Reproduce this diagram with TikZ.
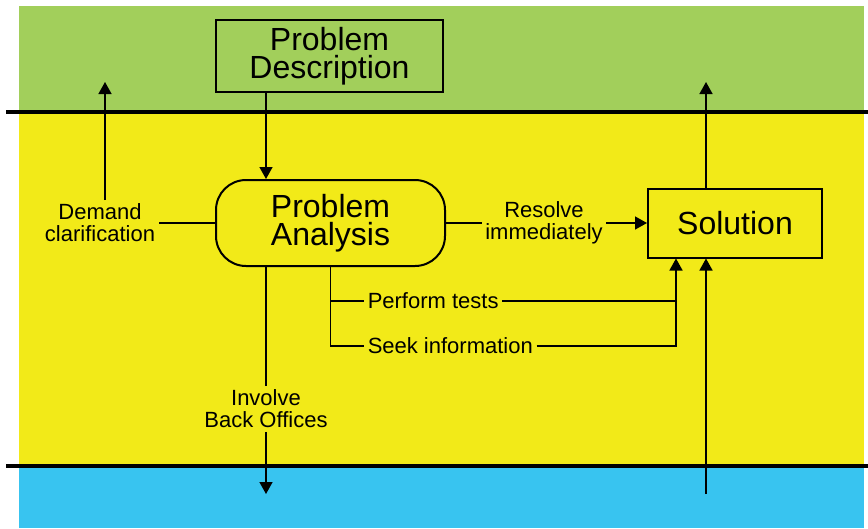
\documentclass[tikz,border=0pt]{standalone}
\usepackage{fontspec}
\setmainfont{Liberation Sans}
\usetikzlibrary{arrows.meta}
\definecolor{topgreen}{RGB}{162,207,91}
\definecolor{midyellow}{RGB}{242,234,24}
\definecolor{lowblue}{RGB}{56,196,240}

\begin{document}
\begin{tikzpicture}[x=1pt, y=-1pt, line width=1.5pt,
    box/.style={draw, line width=2pt, align=center, font=\fontsize{32}{28}\selectfont},
    lbl/.style={align=center, inner sep=3pt, font=\fontsize{22}{22}\selectfont},
    arr/.style={-{Triangle[width=13pt,length=12pt]}}]
  \useasboundingbox (0,0) rectangle (868,528);
  % bands
  \fill[topgreen] (19,6) rectangle (864,112);
  \fill[midyellow] (19,112) rectangle (864,466);
  \fill[lowblue] (19,466) rectangle (864,528);
  \draw[line width=4pt] (6,112) -- (868,112);
  \draw[line width=4pt] (6,466) -- (868,466);

  \node[box, minimum width=227pt, minimum height=72pt] (desc) at (329.5,56) {Problem\\Description};
  \node[box, rounded corners=30pt, minimum width=229pt, minimum height=86pt] (ana) at (330.5,223) {Problem\\Analysis};
  \node[box, minimum width=174pt, minimum height=69pt] (sol) at (735,223) {Solution};

  \node[lbl] (dem) at (100,223) {Demand\\clarification};
  \node[lbl] (res) at (544,223) {Resolve\\immediately};
  \node[lbl, anchor=west] (perf) at (364,301) {Perform tests};
  \node[lbl, anchor=west] (seek) at (364,346) {Seek information};
  \node[lbl] (bo) at (266,409) {Involve\\Back Offices};

  \coordinate (demup) at (105,82);
  \coordinate (solup) at (706,82);
  \coordinate (solin) at (706,494);
  \coordinate (boout) at (266,494);
  \coordinate (mrg) at (676,346);

  % connectors
  \draw[arr] (desc.south -| bo) -- (ana.north -| bo);
  \draw (ana.west) -- (dem.east);
  \draw[arr] (dem.north -| demup) -- (demup);
  \draw (ana.east) -- (res.west);
  \draw[arr] (res.east) -- (sol.west);
  \draw[arr] (sol.north -| solup) -- (solup);
  \draw[arr] (solin) -- (sol.south -| solin);
  \draw (ana.south -| bo) -- (bo.north);
  \draw[arr] (bo.south) -- (boout);
  \draw (ana.south) |- (seek.west);
  \draw (ana.south |- perf.west) -- (perf.west);
  \draw (perf.east) -- (perf.east -| mrg);
  \draw[arr] (seek.east) -| (sol.south -| mrg);
\end{tikzpicture}
\end{document}
